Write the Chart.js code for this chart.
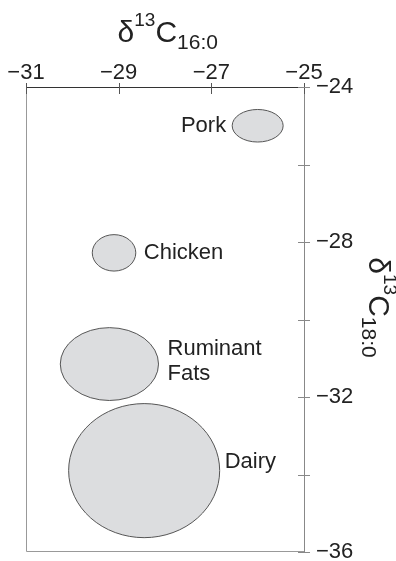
<!DOCTYPE html>
<html>
<head>
<meta charset="utf-8">
<script src="https://cdn.jsdelivr.net/npm/chart.js@4.4.1/dist/chart.umd.min.js"></script>
<style>
  html, body { margin: 0; padding: 0; background: #fff; }
  #wrap { width: 396px; height: 561px; position: relative; }
</style>
</head>
<body>
<div id="wrap"><canvas id="isoChart"></canvas></div>
<script>
// source groups, with the centre and half-width of each range (per mil)
const groups = ['Pork', 'Chicken', 'Ruminant Fats', 'Dairy'];
const c16Centre = [-26.0, -29.1, -29.2, -28.45];
const c18Centre = [-25.0, -28.28, -31.15, -33.9];
const c16Spread = [0.55, 0.47, 1.06, 1.63];
const c18Spread = [0.42, 0.47, 0.94, 1.73];

// axis ranges and labelled ticks
const xRange = [-31, -25];
const yRange = [-36, -24];
const yLabelled = [-36, -32, -28, -24];

const FONT = '"Liberation Sans", Arial, Helvetica, sans-serif';
const minus = v => (v < 0 ? '\u2212' : '') + Math.abs(v);

// label placement next to each ellipse: side and vertical nudge in px
const labelPlace = [
  { side: 'left', gap: 6, dy: 0 },
  { side: 'right', gap: 8, dy: 0 },
  { side: 'right', gap: 9, dy: -3 },
  { side: 'right', gap: 5, dy: -9 }
];

// draws text with super/subscript pieces along a baseline starting at 0
function richRun(ctx, parts) {
  let x = 0;
  parts.forEach(p => {
    ctx.font = p.size + 'px ' + FONT;
    ctx.fillText(p.t, x, p.dy);
    x += ctx.measureText(p.t).width;
  });
}
function runWidth(ctx, parts) {
  let w = 0;
  parts.forEach(p => {
    ctx.font = p.size + 'px ' + FONT;
    w += ctx.measureText(p.t).width;
  });
  return w;
}

const ellipsePlugin = {
  id: 'ranges',
  afterDatasetsDraw(chart) {
    const ctx = chart.ctx;
    const xs = chart.scales.x, ys = chart.scales.y;
    ctx.save();
    groups.forEach((name, i) => {
      const cx = xs.getPixelForValue(c16Centre[i]);
      const cy = ys.getPixelForValue(c18Centre[i]);
      const rx = Math.abs(xs.getPixelForValue(c16Centre[i] + c16Spread[i]) - cx);
      const ry = Math.abs(ys.getPixelForValue(c18Centre[i] + c18Spread[i]) - cy);
      ctx.beginPath();
      ctx.ellipse(cx, cy, rx, ry, 0, 0, Math.PI * 2);
      ctx.fillStyle = '#dcdddf';
      ctx.fill();
      ctx.lineWidth = 1;
      ctx.strokeStyle = '#555';
      ctx.stroke();

      // group label
      const pl = labelPlace[i];
      const lines = name === 'Ruminant Fats' ? ['Ruminant', 'Fats'] : [name];
      const lh = 25;
      ctx.font = '22px ' + FONT;
      ctx.fillStyle = '#222';
      ctx.textBaseline = 'middle';
      ctx.textAlign = pl.side === 'left' ? 'right' : 'left';
      const tx = pl.side === 'left' ? cx - rx - pl.gap : cx + rx + pl.gap;
      const top = cy + pl.dy - (lines.length - 1) * lh / 2;
      lines.forEach((ln, k) => ctx.fillText(ln, tx, top + k * lh));
    });
    ctx.restore();
  },
  afterDraw(chart) {
    const ctx = chart.ctx;
    const a = chart.chartArea;
    const xs = chart.scales.x, ys = chart.scales.y;
    ctx.save();

    // left and bottom frame
    ctx.strokeStyle = '#999';
    ctx.lineWidth = 1;
    ctx.beginPath();
    ctx.moveTo(a.left + 0.5, a.top);
    ctx.lineTo(a.left + 0.5, a.bottom - 0.5);
    ctx.lineTo(a.right, a.bottom - 0.5);
    ctx.stroke();

    // tick marks crossing the axes
    ctx.strokeStyle = '#555';
    ctx.beginPath();
    xs.ticks.forEach(t => {
      const px = Math.round(xs.getPixelForValue(t.value)) + 0.5;
      ctx.moveTo(px, a.top - 4);
      ctx.lineTo(px, a.top + 7);
    });
    ctx.stroke();
    ctx.strokeStyle = '#888';
    ctx.beginPath();
    ys.ticks.forEach(t => {
      const py = Math.round(ys.getPixelForValue(t.value)) + 0.5;
      ctx.moveTo(a.right - 6, py);
      ctx.lineTo(a.right + 6, py);
    });
    ctx.stroke();

    // axis titles
    ctx.fillStyle = '#222';
    ctx.textAlign = 'left';
    ctx.textBaseline = 'alphabetic';
    const xTitle = [
      { t: '\u03b4', size: 30, dy: 0 },
      { t: '13', size: 19, dy: -16 },
      { t: 'C', size: 30, dy: 0 },
      { t: '16:0', size: 21, dy: 7 }
    ];
    const wx = runWidth(ctx, xTitle);
    ctx.save();
    ctx.translate(a.left + a.width * 0.51 - wx / 2, 41.5);
    richRun(ctx, xTitle);
    ctx.restore();

    const yTitle = [
      { t: '\u03b4', size: 30, dy: 0 },
      { t: '13', size: 19, dy: -15 },
      { t: 'C', size: 30, dy: 0 },
      { t: '18:0', size: 21, dy: 7 }
    ];
    const wy = runWidth(ctx, yTitle);
    ctx.save();
    ctx.translate(369, (a.top + a.bottom) / 2 - 12 - wy / 2);
    ctx.rotate(Math.PI / 2);
    richRun(ctx, yTitle);
    ctx.restore();

    ctx.restore();
  }
};

new Chart(document.getElementById('isoChart'), {
  type: 'scatter',
  data: {
    datasets: [{
      label: 'Range centres',
      data: groups.map((g, i) => ({ x: c16Centre[i], y: c18Centre[i] })),
      pointRadius: 0,
      pointHoverRadius: 0
    }]
  },
  options: {
    responsive: true,
    maintainAspectRatio: false,
    animation: false,
    layout: { padding: { left: 26, right: 0, top: 0, bottom: 9 } },
    plugins: {
      legend: { display: false },
      tooltip: { enabled: false }
    },
    scales: {
      x: {
        type: 'linear',
        position: 'top',
        min: xRange[0],
        max: xRange[1],
        grid: { display: false },
        border: { display: true, color: '#333', width: 1 },
        ticks: {
          stepSize: 2,
          padding: -7,
          color: '#222',
          font: { family: FONT, size: 22 },
          callback: v => minus(v)
        },
        afterFit: s => {
          s.height = 87;
          s.paddingLeft = 0;
          s.paddingRight = 0;
        }
      },
      y: {
        type: 'linear',
        position: 'right',
        min: yRange[0],
        max: yRange[1],
        grid: { display: false },
        border: { display: true, color: '#888', width: 1 },
        ticks: {
          stepSize: 2,
          padding: 4,
          color: '#222',
          font: { family: FONT, size: 22 },
          autoSkip: false,
          callback: v => yLabelled.includes(v) ? minus(v) : ''
        },
        afterFit: s => {
          s.width = 92;
          s.paddingTop = 0;
          s.paddingBottom = 0;
        }
      }
    }
  },
  plugins: [ellipsePlugin]
});
</script>
</body>
</html>
